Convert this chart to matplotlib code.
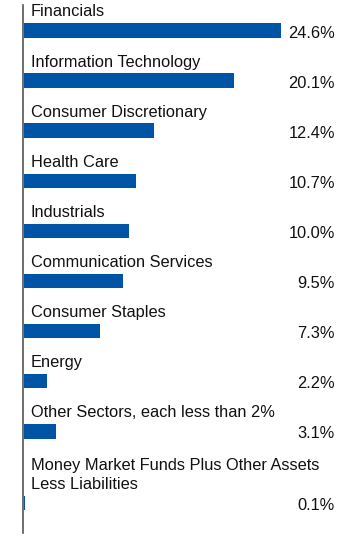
import matplotlib
matplotlib.use("Agg")
import matplotlib.pyplot as plt

categories = [
    "Financials",
    "Information Technology",
    "Consumer Discretionary",
    "Health Care",
    "Industrials",
    "Communication Services",
    "Consumer Staples",
    "Energy",
    "Other Sectors, each less than 2%",
    "Money Market Funds Plus Other Assets\nLess Liabilities",
]
values = [24.6, 20.1, 12.4, 10.7, 10.0, 9.5, 7.3, 2.2, 3.1, 0.1]
value_labels = ["24.6%", "20.1%", "12.4%", "10.7%", "10.0%", "9.5%", "7.3%", "2.2%", "3.1%", "0.1%"]

plt.rcParams['font.family'] = ['Liberation Sans', 'DejaVu Sans']

W, H = 360, 537
fig = plt.figure(figsize=(W / 100, H / 100), dpi=100)
left_px = 23
ax = fig.add_axes([left_px / W, 0, 1 - left_px / W, 1])
px_per_pct = 10.45
ax.set_xlim(0, (W - left_px) / px_per_pct)
ax.set_ylim(H, 0)

color = "#0054A6"
row_gap = 50.1
line_gap = 21.6
y = 30.5
positions = []
for i, cat in enumerate(categories):
    extra = cat.count("\n")
    y_here = y + extra * line_gap
    positions.append(y_here)
    y = y_here + row_gap

ax.barh(positions, values, height=14.5, left=0.1, color=color)

fs = 11.8
label_x = (31 - left_px) / px_per_pct
val_x = (335 - left_px) / px_per_pct
for cat, pos, vl in zip(categories, positions, value_labels):
    ax.text(label_x, pos - 14, cat, ha="left", va="baseline", fontsize=fs,
            color="#111111", linespacing=1.33)
    ax.text(val_x, pos + 2.5, vl, ha="right", va="center", fontsize=fs, color="#111111")

for s in ["top", "right", "bottom"]:
    ax.spines[s].set_visible(False)
ax.spines["left"].set_bounds(5, 533)
ax.spines["left"].set_color("#555555")
ax.spines["left"].set_linewidth(1.2)
ax.set_xticks([])
ax.set_yticks([])
ax.patch.set_alpha(0)

fig.savefig("out.png", dpi=100)
